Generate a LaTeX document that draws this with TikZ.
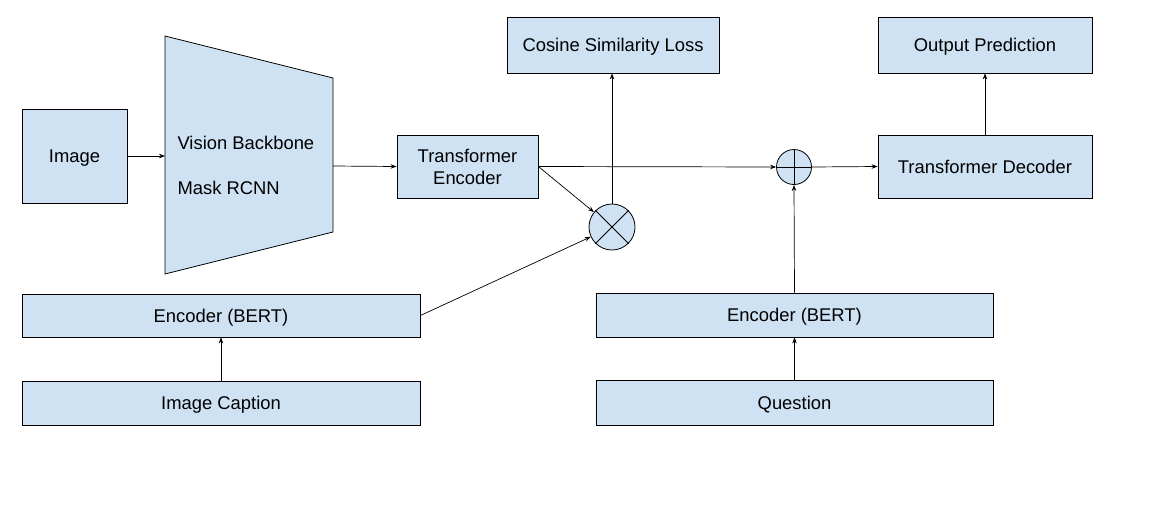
\documentclass[tikz,border=0pt]{standalone}
\usepackage{fontspec}
\setmainfont{Liberation Sans}
\usetikzlibrary{arrows.meta}
\definecolor{boxblue}{HTML}{CFE2F3}
\begin{document}
\begin{tikzpicture}[x=1pt,y=-1pt,
  txt/.style={font=\fontsize{18.4}{22}\selectfont},
  box/.style={draw, fill=boxblue, line width=0.8pt, inner sep=0pt, align=center, txt},
  onel/.style={text height=13.2pt, text depth=0pt},
  opnode/.style={draw, fill=boxblue, circle, line width=0.8pt, inner sep=0pt},
  arr/.style={-{Stealth[length=6pt,width=4.5pt]}, line width=0.7pt}]
\useasboundingbox (0,0) rectangle (1168,531);
\fill[white] (0,0) rectangle (1168,531);
% backbone trapezoid
\coordinate (bbtl) at (165,36);
\coordinate (bbbl) at (165,274);
\coordinate (bbtr) at (333,78);
\coordinate (bbbr) at (333,232);
\draw[fill=boxblue, line width=0.8pt] (bbtl) -- (bbtr) -- (bbbr) -- (bbbl) -- cycle;
\coordinate (bbin) at (165,156);
\coordinate (bbout) at (333,166);
\node[txt, onel, anchor=west] (vb) at (174,143) {Vision Backbone};
\node[txt, onel, anchor=west] (mr) at (174,188) {Mask RCNN};
% boxes
\node[box, onel, minimum width=105pt, minimum height=94pt] (img) at (74.5,156) {Image};
\node[box, minimum width=141pt, minimum height=63pt] (te) at (467.5,166.5) {\raisebox{-2pt}{Transformer}\\\raisebox{-2pt}{Encoder}};
\node[box, onel, minimum width=212pt, minimum height=56pt] (csl) at (613,45) {Cosine Similarity Loss};
\node[box, onel, minimum width=214pt, minimum height=56pt] (op) at (985,45) {Output Prediction};
\node[box, onel, minimum width=214pt, minimum height=63pt] (td) at (985,166.5) {Transformer Decoder};
\node[box, onel, minimum width=398pt, minimum height=43pt] (encl) at (221,315.5) {Encoder (BERT)};
\node[box, onel, minimum width=398pt, minimum height=44pt] (cap) at (221,403) {Image Caption};
\node[box, onel, minimum width=397pt, minimum height=44pt] (encr) at (794.5,315) {Encoder (BERT)};
\node[box, onel, minimum width=397pt, minimum height=45pt] (q) at (794.5,402.5) {Question};
% operators
\node[opnode, minimum size=46pt] (otimes) at (612,227) {};
\draw[line width=0.8pt] (otimes.north east) -- (otimes.south west) (otimes.north west) -- (otimes.south east);
\node[opnode, minimum size=35pt] (oplus) at (794,167) {};
\draw[line width=0.8pt] (oplus.north) -- (oplus.south) (oplus.west) -- (oplus.east);
% connectors
\draw[arr] (img.east) -- (bbin);
\draw[arr] (bbout) -- (te.west);
\draw[arr] (te.east) -- (oplus.west);
\draw[arr] (te.east) -- (otimes);
\draw[arr] (encl.east) -- (otimes);
\draw[arr] (otimes.north) -- (otimes.north |- csl.south);
\draw[arr] (oplus.east) -- (td.west);
\draw[arr] (td.north) -- (op.south);
\draw[arr] (encr.north) -- (oplus.south);
\draw[arr] (cap.north) -- (encl.south);
\draw[arr] (q.north) -- (encr.south);
\end{tikzpicture}
\end{document}
